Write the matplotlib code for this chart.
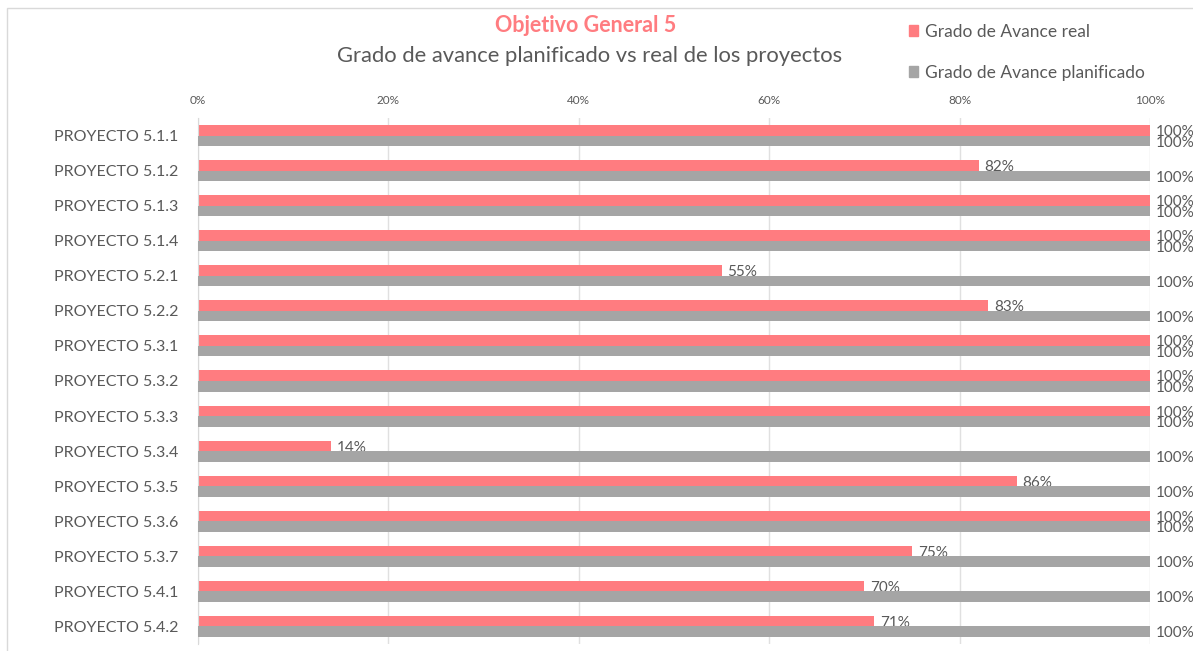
import matplotlib.pyplot as plt
import matplotlib.patches as mpatches
import numpy as np

plt.rcParams['font.family'] = ['Lato', 'DejaVu Sans']

proyectos = ['PROYECTO 5.1.1', 'PROYECTO 5.1.2', 'PROYECTO 5.1.3', 'PROYECTO 5.1.4',
             'PROYECTO 5.2.1', 'PROYECTO 5.2.2', 'PROYECTO 5.3.1', 'PROYECTO 5.3.2',
             'PROYECTO 5.3.3', 'PROYECTO 5.3.4', 'PROYECTO 5.3.5', 'PROYECTO 5.3.6',
             'PROYECTO 5.3.7', 'PROYECTO 5.4.1', 'PROYECTO 5.4.2']
avance_real = [100, 82, 100, 100, 55, 83, 100, 100, 100, 14, 86, 100, 75, 70, 71]
avance_plan = [100, 100, 100, 100, 100, 100, 100, 100, 100, 100, 100, 100, 100, 100, 100]
ticks = [0, 20, 40, 60, 80, 100]

ROSA = '#FF7C80'
GRIS = '#A5A5A5'
TEXTO = '#595959'

fig = plt.figure(figsize=(11.93, 6.51), dpi=100)
ax = fig.add_axes([198/1193, 1 - 644/651, (1150-198)/1193, (644-118)/651])

y = np.arange(len(proyectos))
h = 0.3
ax.barh(y - h/2, avance_real, height=h, color=ROSA, zorder=2)
ax.barh(y + h/2, avance_plan, height=h, color=GRIS, zorder=3)

# etiquetas de datos (se solapan igual que en el original cuando ambos son 100%)
for i, (r, p) in enumerate(zip(avance_real, avance_plan)):
    ax.text(r + 0.6, i - h/2 + 0.05, f'{r}%', va='center', ha='left',
            fontsize=11, color=TEXTO, zorder=2.5, clip_on=False)
    ax.text(p + 0.6, i + h/2 + 0.05, f'{p}%', va='center', ha='left',
            fontsize=11, color=TEXTO, zorder=4, clip_on=False)

ax.set_xlim(0, 100)
ax.set_ylim(len(proyectos) - 0.5, -0.5)
ax.set_yticks(y)
ax.set_yticklabels(proyectos, fontsize=11.5, color=TEXTO)
ax.set_xticks(ticks)
ax.set_xticklabels([f'{t}%' for t in ticks], fontsize=8.5, color=TEXTO)
ax.xaxis.tick_top()
ax.tick_params(axis='both', length=0)
ax.tick_params(axis='x', pad=9)
ax.tick_params(axis='y', pad=14)
ax.grid(axis='x', color='#E0E0E0', linewidth=1, zorder=0)
for s in ['top', 'right', 'bottom']:
    ax.spines[s].set_visible(False)
ax.spines['left'].set_color('#D9D9D9')
ax.set_axisbelow(True)

fig.text(586/1193, 1 - 26/651, 'Objetivo General 5', ha='center', va='center',
         fontsize=15.5, fontweight='bold', color=ROSA)
fig.text(590/1193, 1 - 56/651, 'Grado de avance planificado vs real de los proyectos',
         ha='center', va='center', fontsize=15.8, color=TEXTO)

handles = [mpatches.Patch(color=ROSA, label='Grado de Avance real'),
           mpatches.Patch(color=GRIS, label='Grado de Avance planificado')]
fig.legend(handles=handles, loc='upper left', bbox_to_anchor=(893/1193, 1 - 8/651),
           frameon=False, fontsize=12.5, labelcolor=TEXTO, handlelength=0.55,
           handleheight=0.55, handletextpad=0.4, labelspacing=1.45)

# marco del grafico
fig.patches.append(mpatches.Rectangle((7/1193, -0.01), 1.1, 1 - 8/651 + 0.01,
                                      transform=fig.transFigure, fill=False,
                                      edgecolor='#D9D9D9', linewidth=1))

fig.savefig('out.png', dpi=100)
